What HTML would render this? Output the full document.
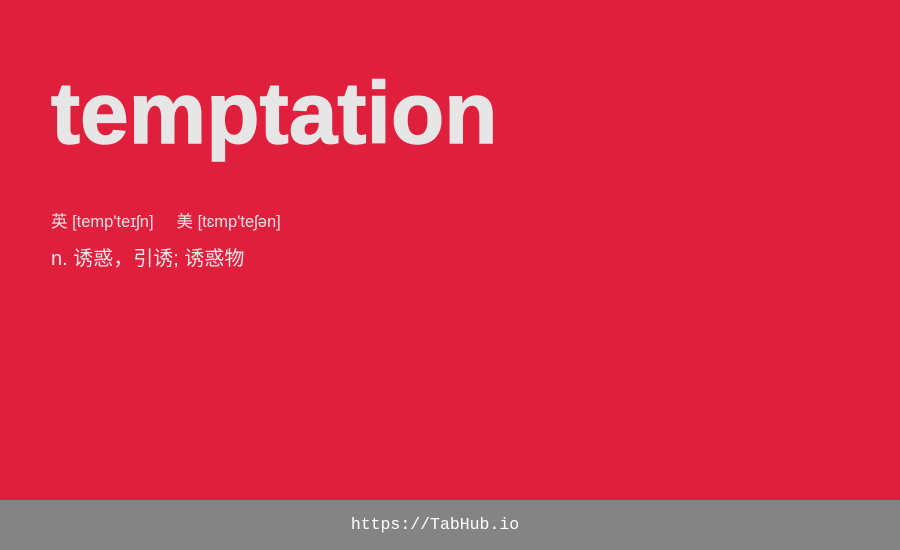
<!DOCTYPE html>
<html><head><meta charset="utf-8"><style>
html,body{margin:0;padding:0;}
body{width:900px;height:550px;position:relative;background:#e01f3d;overflow:hidden;font-family:"Liberation Sans","Noto Sans CJK SC",sans-serif;}
#word{position:absolute;left:51px;top:64px;font-size:87px;font-weight:bold;color:#e6e6e6;line-height:100px;margin:0;-webkit-text-stroke:1.5px #e6e6e6;letter-spacing:0.2px;}
#phon{position:absolute;left:51px;top:211px;font-size:16.5px;color:#f0e0e3;line-height:22px;}
#def{position:absolute;left:51px;top:246px;font-size:20px;color:#f2e6e8;line-height:26px;}
#footer{position:absolute;left:0;top:500px;width:870px;height:50px;color:#fff;text-align:center;line-height:50px;font-family:"Liberation Mono",monospace;font-size:16.5px;}
#footbg{position:absolute;left:0;top:500px;width:900px;height:50px;background:#848484;}
</style></head><body>
<h1 id="word">temptation</h1>
<div id="phon">英 [temp'teɪʃn]&nbsp;&nbsp;&nbsp;&nbsp;&nbsp;美 [tɛmp'teʃən]</div>
<div id="def">n. 诱惑，引诱; 诱惑物</div>
<div id="footbg"></div>
<div id="footer">https://TabHub.io</div>
</body></html>
